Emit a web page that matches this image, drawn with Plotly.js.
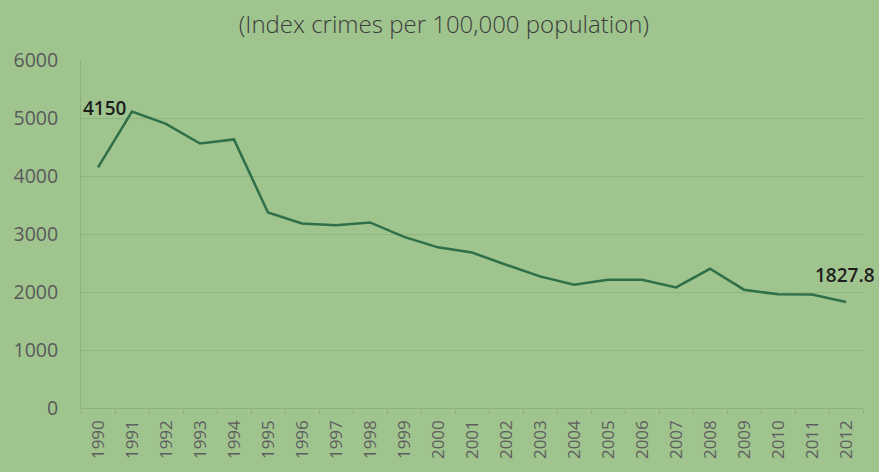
<!DOCTYPE html>
<html>
<head>
<meta charset="utf-8">
<script src="https://cdn.plot.ly/plotly-3.0.1.min.js"></script>
<style>html,body{margin:0;padding:0;background:#a0c48e;}</style>
</head>
<body>
<div id="chart" style="width:879px;height:472px;"></div>
<script>
const years = ["1990","1991","1992","1993","1994","1995","1996","1997","1998","1999","2000","2001","2002","2003","2004","2005","2006","2007","2008","2009","2010","2011","2012"];
const crimeRate = [4150,5110,4900,4560,4630,3370,3180,3150,3200,2950,2770,2680,2470,2270,2125,2210,2210,2080,2400,2040,1960,1955,1827.8];
const yTicks = [0,1000,2000,3000,4000,5000,6000];
const titleText = "(Index crimes per 100,000 population)";
const firstLabel = "4150";
const lastLabel = "1827.8";

const bg = "#a0c48e";
const fontFam = "Open Sans, Lato, sans-serif";
const trace = {
  x: years, y: crimeRate, type: "scatter", mode: "lines",
  line: {color: "#2f7049", width: 2.5},
  hoverinfo: "skip"
};
const lastIdx = years.length - 1;
const layout = {
  width: 879, height: 472,
  paper_bgcolor: bg, plot_bgcolor: bg,
  margin: {l: 81, r: 16, t: 60, b: 64},
  showlegend: false,
  title: {text: titleText, x: 0.505, xanchor: "center", y: 0.948, yanchor: "middle",
          font: {family: fontFam, size: 24, color: "#3c3c3c", weight: 300}},
  xaxis: {type: "category", range: [-0.5, lastIdx + 0.5], tickson: "boundaries", ticks: "outside", ticklen: 5,
          tickcolor: "#8db07e", showline: true, linecolor: "#8db07e", linewidth: 1,
          showgrid: false, tickangle: -90, automargin: false, ticksuffix: "\u00a0",
          tickfont: {family: fontFam, size: 17, color: "#5e5e5e"}},
  yaxis: {range: [0, 6000], tickvals: yTicks, showline: true, linecolor: "#8db07e",
          gridcolor: "#90b680", gridwidth: 1, zeroline: false, ticks: "",
          ticklabelstandoff: 18, automargin: false,
          tickfont: {family: fontFam, size: 19.5, color: "#5a5a5a"}},
  annotations: [
    {x: 0, y: crimeRate[0], xref: "x", yref: "y", text: firstLabel, showarrow: false,
     xanchor: "left", yanchor: "middle", xshift: -17, yshift: 59,
     font: {family: fontFam, size: 19, color: "#1e1e1e", weight: 600}},
    {x: lastIdx, y: crimeRate[lastIdx], xref: "x", yref: "y",
     text: lastLabel, showarrow: false, xanchor: "center", yanchor: "middle", xshift: -1, yshift: 27,
     font: {family: fontFam, size: 19, color: "#1e1e1e", weight: 600}}
  ]
};
Plotly.newPlot("chart", [trace], layout, {staticPlot: true, displayModeBar: false});
</script>
</body>
</html>
